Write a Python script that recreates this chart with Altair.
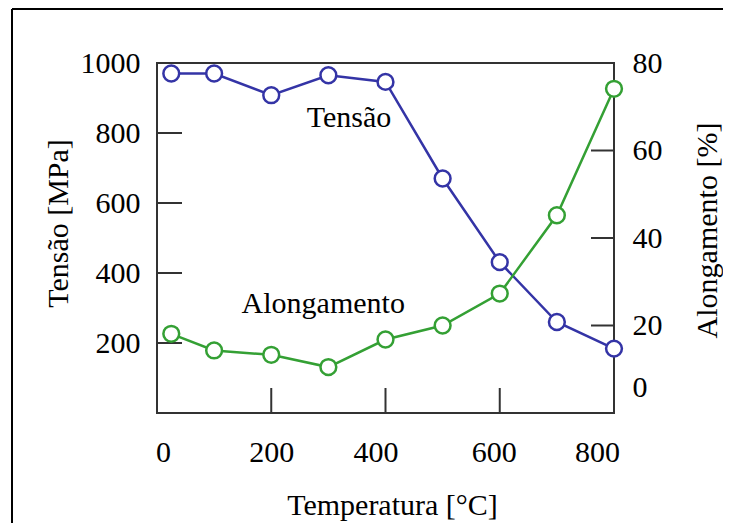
import altair as alt
import pandas as pd

# ---------------- data ----------------
temperatura = [25, 100, 200, 300, 400, 500, 600, 700, 800]
tensao = [970, 970, 908, 965, 946, 670, 431, 260, 184]
alongamento = [18.1, 14.3, 13.3, 10.5, 16.8, 20.0, 27.3, 45.2, 74.1]

x_labels = [0, 200, 400, 600, 800]
tensao_labels = [200, 400, 600, 800, 1000]
along_labels = [0, 20, 40, 60, 80]

x_inner_ticks = [200, 400, 600]
tensao_inner_ticks = [200, 400, 600, 800]
along_inner_ticks = [20, 40, 60]

ann_tensao = {"txt": ["Tensão"], "T": [336], "S": [817]}
ann_along = {"txt": ["Alongamento"], "T": [291], "A": [22.9]}

# ---------------- style ----------------
W, H = 457, 350
FONT = "Liberation Serif"
BLUE = "#3434a6"
GREEN = "#34a034"
DARK = "#333333"

df = pd.DataFrame({"T": temperatura, "S": tensao, "A": alongamento})
xs = alt.Scale(domain=[0, 800], nice=False, zero=False)
ys_left = alt.Scale(domain=[0, 1000], nice=False, zero=False)
ys_right = alt.Scale(domain=[0, 80], nice=False, zero=False)

x_axis = alt.Axis(
    values=x_labels, format="d", title="Temperatura [°C]", labelPadding=24,
    labelFlush=False,
    labelOffset={"condition": [
        {"test": "datum.value === 0", "value": 6},
        {"test": "datum.value === 400", "value": -10},
        {"test": "datum.value === 600", "value": -6},
        {"test": "datum.value === 800", "value": -17}], "value": 0},
    titleX=235, titleY=101, titleBaseline="alphabetic", titleAlign="center")

left_axis = alt.Axis(
    values=tensao_labels, format="d", title="Tensão [MPa]", labelPadding=17,
    labelFlush=False,
    titleAngle=270, titleX=-99, titleY=160, titleBaseline="middle", titleAlign="center")

right_axis = alt.Axis(
    values=along_labels, format="d", orient="right", title="Alongamento [%]",
    labelPadding=18, labelFlush=False,
    labelOffset={"condition": {"test": "datum.value === 0", "value": -26}, "value": 0},
    titleAngle=270, titleX=93, titleY=167, titleBaseline="middle", titleAlign="center")

one = pd.DataFrame({"a": [0]})

# outer figure frame (top and left lines)
frame_top = alt.Chart(one).mark_rule(color="black", strokeWidth=2).encode(
    x=alt.value(-145), x2=alt.value(W + 200), y=alt.value(-54))
frame_left = alt.Chart(one).mark_rule(color="black", strokeWidth=2).encode(
    y=alt.value(-54), y2=alt.value(H + 200), x=alt.value(-145))

# inward ticks
left_ticks = alt.Chart(pd.DataFrame({"S": tensao_inner_ticks})).mark_rule(
    color=DARK, strokeWidth=2).encode(
    y=alt.Y("S:Q", scale=ys_left), x=alt.value(0), x2=alt.value(25))
bottom_ticks = alt.Chart(pd.DataFrame({"T": x_inner_ticks})).mark_rule(
    color=DARK, strokeWidth=2).encode(
    x=alt.X("T:Q", scale=xs), y=alt.value(H - 25), y2=alt.value(H))
right_ticks = alt.Chart(pd.DataFrame({"A": along_inner_ticks})).mark_rule(
    color=DARK, strokeWidth=2).encode(
    y=alt.Y("A:Q", scale=ys_right), x=alt.value(W - 23), x2=alt.value(W))

blue_line = alt.Chart(df).mark_line(color=BLUE, strokeWidth=2.5).encode(
    x=alt.X("T:Q", scale=xs, axis=x_axis),
    y=alt.Y("S:Q", scale=ys_left, axis=left_axis))
blue_pts = alt.Chart(df).mark_point(
    shape="circle", filled=True, fill="white", stroke=BLUE, strokeWidth=2.5,
    size=250, opacity=1).encode(
    x=alt.X("T:Q", scale=xs),
    y=alt.Y("S:Q", scale=ys_left))
txt_tensao = alt.Chart(pd.DataFrame(ann_tensao)).mark_text(
    font=FONT, fontSize=30, color="black", align="center", baseline="alphabetic").encode(
    x=alt.X("T:Q", scale=xs),
    y=alt.Y("S:Q", scale=ys_left), text="txt:N")

green_line = alt.Chart(df).mark_line(color=GREEN, strokeWidth=2.5).encode(
    x=alt.X("T:Q", scale=xs),
    y=alt.Y("A:Q", scale=ys_right, axis=right_axis))
green_pts = alt.Chart(df).mark_point(
    shape="circle", filled=True, fill="white", stroke=GREEN, strokeWidth=2.5,
    size=250, opacity=1).encode(
    x=alt.X("T:Q", scale=xs),
    y=alt.Y("A:Q", scale=ys_right))
txt_along = alt.Chart(pd.DataFrame(ann_along)).mark_text(
    font=FONT, fontSize=30, color="black", align="center", baseline="alphabetic").encode(
    x=alt.X("T:Q", scale=xs),
    y=alt.Y("A:Q", scale=ys_right), text="txt:N")

left_layer = alt.layer(blue_line, left_ticks, bottom_ticks, frame_top, frame_left,
                       blue_pts, txt_tensao)
right_layer = alt.layer(green_line, right_ticks, green_pts, txt_along)

chart = alt.layer(left_layer, right_layer).resolve_scale(y="independent").properties(
    width=W, height=H,
    autosize=alt.AutoSizeParams(type="none"),
    padding={"left": 149, "top": 55, "right": 109, "bottom": 110},
    background="white",
).configure_view(stroke=DARK, strokeWidth=2).configure_axis(
    labelFont=FONT, labelFontSize=30, labelColor="black",
    titleFont=FONT, titleFontSize=30, titleFontWeight="normal", titleColor="black",
    domain=False, ticks=False, grid=False)

chart.save("out.html", embed_options={"renderer": "svg", "actions": False})
